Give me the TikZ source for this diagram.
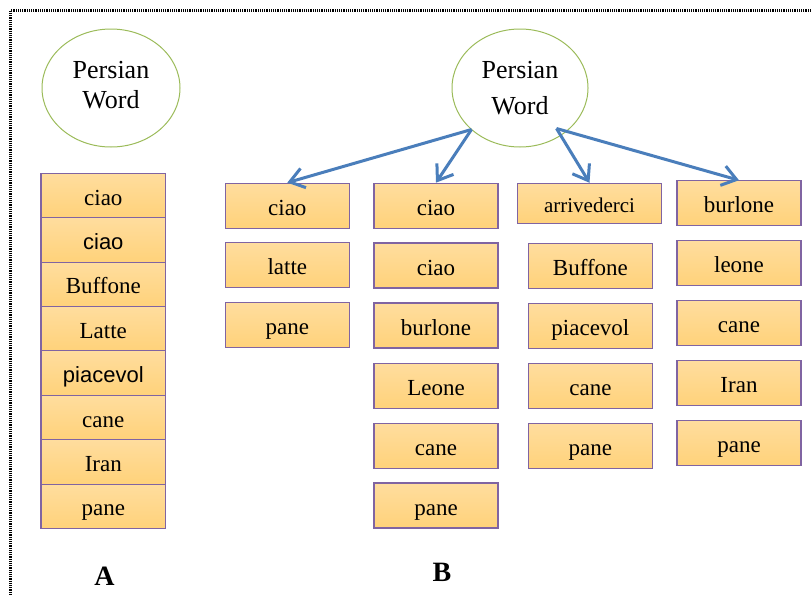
\documentclass[tikz,border=0pt]{standalone}
\usepackage{fontspec}
\setmainfont{Liberation Serif}
\newfontfamily\arialf{Liberation Sans}
\usetikzlibrary{arrows.meta,shapes.geometric}
\definecolor{boxpurple}{RGB}{128,100,162}
\definecolor{boxtop}{RGB}{255,221,158}
\definecolor{boxbot}{RGB}{255,210,122}
\definecolor{ellgreen}{RGB}{155,187,89}
\definecolor{arrblue}{RGB}{74,126,187}
\tikzset{
  wbox/.style={draw=boxpurple, line width=1.1pt, top color=boxtop, bottom color=boxbot,
    minimum width=124pt, minimum height=45pt, inner sep=0pt,
    text height=19pt, text depth=0pt,
    font=\fontsize{23}{27}\selectfont},
  abox/.style={wbox, minimum width=124.7pt, minimum height=44.4pt},
  sansbox/.style={font=\arialf\fontsize{22}{26}\selectfont},
  pword/.style={ellipse, draw=ellgreen, line width=1pt, align=center, inner sep=0pt,
    font=\fontsize{26}{30}\selectfont},
  blarrow/.style={draw=arrblue, line width=3pt, -{Straight Barb[length=14pt,width=20pt]}},
  letter/.style={font=\bfseries\fontsize{28}{32}\selectfont, inner sep=0pt}
}
\begin{document}
\begin{tikzpicture}[x=1pt,y=-1pt]
\useasboundingbox (0,0) rectangle (811,595);
% border
\draw[line width=2.5pt, dash pattern=on 1.2pt off 1pt] (811,10.5) -- (10.5,10.5) -- (10.5,595);
% ellipses
\node[pword, minimum width=138pt, minimum height=118pt, text depth=6pt] (eA) at (111,88) {Persian\\Word};
\node[pword, minimum width=136pt, minimum height=118pt, font=\fontsize{26}{36}\selectfont] (eB) at (520,88) {Persian\\Word};
% column A
\node[abox] (a1) at (103.3,195.5) {ciao};
\node[abox, sansbox] (a2) at (103.3,239.9) {ciao};
\node[abox] (a3) at (103.3,284.3) {Buffone};
\node[abox] (a4) at (103.3,328.7) {Latte};
\node[abox, sansbox] (a5) at (103.3,373.1) {piacevol};
\node[abox] (a6) at (103.3,417.5) {cane};
\node[abox] (a7) at (103.3,461.9) {Iran};
\node[abox] (a8) at (103.3,506.3) {pane};
% column B1
\node[wbox] (b1a) at (287.3,205.7) {ciao};
\node[wbox] (b1b) at (287.3,265.0) {latte};
\node[wbox] (b1c) at (287.3,325.3) {pane};
% column B2
\node[wbox] (b2a) at (436,205.7) {ciao};
\node[wbox] (b2b) at (436,265.5) {ciao};
\node[wbox] (b2c) at (436,325.5) {burlone};
\node[wbox] (b2d) at (436,385.8) {Leone};
\node[wbox] (b2e) at (436,445.8) {cane};
\node[wbox] (b2f) at (436,505.5) {pane};
% column B3
\node[wbox, minimum width=144.4pt, minimum height=40pt, text height=18pt, font=\fontsize{21}{25}\selectfont] (b3a) at (589.5,203.3) {arrivederci};
\node[wbox] (b3b) at (590.4,265.7) {Buffone};
\node[wbox] (b3c) at (590.4,326.0) {piacevol};
\node[wbox] (b3d) at (590.4,386.0) {cane};
\node[wbox] (b3e) at (590.4,446.3) {pane};
% column B4
\node[wbox] (b4a) at (739,203.3) {burlone};
\node[wbox] (b4b) at (739,263.2) {leone};
\node[wbox] (b4c) at (739,323.2) {cane};
\node[wbox] (b4d) at (739,383.2) {Iran};
\node[wbox] (b4e) at (739,442.8) {pane};
% arrows
\coordinate (sL) at (471.5,129.5);
\coordinate (sR) at (556.5,128.5);
\draw[blarrow] (sL) -- (b1a.north);
\draw[blarrow] (sL) -- (b2a.north);
\draw[blarrow] (sR) -- (b3a.north);
\draw[blarrow] (sR) -- (b4a.north);
% labels
\node[letter] (lA) at (104.5,576) {A};
\node[letter] (lB) at (442,572) {B};
\end{tikzpicture}
\end{document}
